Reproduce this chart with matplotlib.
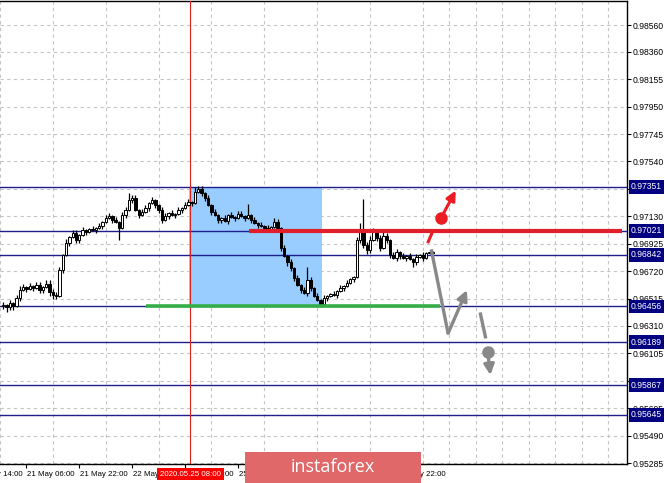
import matplotlib
matplotlib.use("Agg")
import matplotlib.pyplot as plt
from matplotlib.patches import Rectangle
from matplotlib.transforms import blended_transform_factory
import numpy as np

plt.rcParams['font.family'] = ['Liberation Sans', 'DejaVu Sans']

# H1 closes, bar 0 = 20 May 23:00
closes = [0.96467, 0.96452, 0.96482, 0.96459, 0.96519, 0.96579, 0.96601, 0.96586, 0.96609, 0.96594,
          0.96616, 0.96579, 0.96601, 0.96624, 0.96564, 0.96541, 0.96534, 0.96728, 0.96840, 0.96930,
          0.96975, 0.97005, 0.96952, 0.96990, 0.97027, 0.97013, 0.97035, 0.97027, 0.97042, 0.97057,
          0.97087, 0.97117, 0.97132, 0.97102, 0.97087, 0.97042, 0.97139, 0.97177, 0.97252, 0.97267,
          0.97177, 0.97139, 0.97162, 0.97192, 0.97229, 0.97252, 0.97214, 0.97177, 0.97102, 0.97132,
          0.97155, 0.97139, 0.97147, 0.97177, 0.97192, 0.97214, 0.97237, 0.97229, 0.97312, 0.97334,
          0.97304, 0.97267, 0.97214, 0.97162, 0.97139, 0.97102, 0.97117, 0.97095, 0.97139, 0.97125,
          0.97117, 0.97147, 0.97132, 0.97117, 0.97139, 0.97102, 0.97080, 0.97065, 0.97057, 0.97042,
          0.97035, 0.97050, 0.97087, 0.97042, 0.96893, 0.96833, 0.96788, 0.96743, 0.96668, 0.96616,
          0.96579, 0.96556, 0.96653, 0.96594, 0.96534, 0.96504, 0.96474, 0.96519, 0.96534, 0.96549,
          0.96541, 0.96571, 0.96594, 0.96609, 0.96631, 0.96661, 0.96676, 0.96952, 0.97013, 0.96915,
          0.96878, 0.96952, 0.97013, 0.96968, 0.96893, 0.96982, 0.96952, 0.96840, 0.96818, 0.96863,
          0.96833, 0.96818, 0.96833, 0.96811, 0.96788, 0.96825, 0.96840, 0.96818, 0.96855, 0.96863,
          0.96855]
first_open = 0.96459
# wicks in pips above / below the body
wick_hi = [2, 1, 2, 1, 2, 3, 2, 1, 2, 1,
           2, 2, 1, 3, 3, 2, 2, 2, 1, 3,
           1, 2, 2, 1, 2, 1, 1, 2, 1, 2,
           1, 2, 2, 1, 2, 1, 2, 2, 5, 2,
           2, 1, 2, 2, 1, 2, 1, 1, 2, 2,
           1, 2, 1, 2, 1, 2, 2, 1, 4, 2,
           2, 1, 2, 1, 2, 1, 1, 2, 1, 2,
           1, 2, 2, 1, 8, 1, 2, 1, 2, 1,
           2, 1, 3, 2, 1, 2, 1, 2, 1, 2,
           1, 2, 10, 2, 1, 2, 1, 2, 1, 1,
           2, 1, 2, 1, 2, 1, 1, 2, 7, 25,
           2, 3, 3, 2, 2, 3, 2, 1, 2, 2,
           1, 2, 1, 2, 1, 2, 1, 2, 1, 1,
           1]
wick_lo = [2, 4, 2, 3, 1, 2, 1, 2, 1, 2,
           1, 2, 2, 1, 3, 3, 2, 1, 2, 1,
           2, 1, 2, 2, 1, 2, 1, 1, 2, 1,
           2, 1, 1, 2, 1, 9, 1, 2, 1, 2,
           1, 2, 1, 1, 2, 1, 2, 2, 2, 1,
           2, 1, 2, 1, 2, 1, 1, 2, 1, 1,
           2, 2, 1, 2, 1, 2, 2, 1, 2, 1,
           2, 1, 1, 2, 1, 2, 1, 2, 1, 2,
           1, 2, 1, 2, 2, 1, 3, 2, 2, 1,
           2, 1, 2, 2, 1, 1, 2, 1, 2, 1,
           1, 2, 1, 2, 1, 1, 2, 1, 2, 2,
           3, 2, 1, 2, 2, 1, 2, 2, 1, 2,
           2, 1, 2, 1, 4, 2, 1, 2, 1, 1,
           1]

ytick_vals = [0.98560, 0.98360, 0.98155, 0.97950, 0.97745, 0.97540, 0.97335, 0.97130, 0.96925,
              0.96720, 0.96515, 0.96310, 0.96105, 0.95900, 0.95695, 0.95490, 0.95285]
level_vals = [0.97351, 0.97021, 0.96842, 0.96456, 0.96189, 0.95867, 0.95645]

xtick_bars = [-9, 7, 23, 39, 55, 71, 87, 103, 119]
xtick_text = ['20 May 14:00', '21 May 06:00', '21 May 22:00', '22 May 14:00', '25 May 06:00',
              '25 May 22:00', '26 May 14:00', '27 May 06:00', '27 May 22:00']
cursor_bar = 56.6
cursor_text = '2020.05.25 08:00'

box_bars = [56.3, 96.4]
box_prices = [0.96456, 0.97351]
resist_bars = [74.3, 187.2]
resist_price = 0.97021
support_bars = [43.2, 132.3]
support_price = 0.96456

red_dash = [[128.6, 129.9], [0.96940, 0.97015]]
red_dot = [132.5, 0.97119]
red_tip = [136.9, 0.97322]
gray_path = [[129.5, 134.6], [0.96883, 0.96255]]
gray_tip = [140.3, 0.96579]
gray_dash = [[144.4, 145.9], [0.96399, 0.96229]]
gray_dot = [146.6, 0.96117]
gray_tip2 = [147.4, 0.95943]

W, H = 665, 483
fig = plt.figure(figsize=(W / 100, H / 100), dpi=100)
ax = fig.add_axes([0, 19 / H, 627 / W, 463 / H])
ax.set_xlim(-0.54, 188.74)
ax.set_ylim(0.95278, 0.98740)

# candles
x = np.arange(len(closes))
opens = [first_open] + closes[:-1]
tops = np.maximum(opens, closes)
bots = np.minimum(opens, closes)
highs = tops + np.array(wick_hi) * 0.0001
lows = bots - np.array(wick_lo) * 0.0001
heights = np.maximum(tops - bots, 0.00002)
cols = ['black' if c < o else 'white' for o, c in zip(opens, closes)]
ax.vlines(x, lows, highs, color='black', lw=0.9, zorder=4)
ax.bar(x, heights, bottom=bots, width=0.72, color=cols, edgecolor='black', lw=0.7, zorder=5)

# rectangle and levels
ax.add_patch(Rectangle((box_bars[0], box_prices[0]), box_bars[1] - box_bars[0],
                       box_prices[1] - box_prices[0], fc='#99ccff', ec='none', zorder=1))
for lv in level_vals:
    ax.axhline(lv, color='#1e1e8c', lw=1, zorder=3)
ax.axvline(cursor_bar, color='#dd2222', lw=0.8, zorder=3)
ax.plot(resist_bars, [resist_price] * 2, color='#e01f2b', lw=3, zorder=6, solid_capstyle='butt')
ax.plot(support_bars, [support_price] * 2, color='#35ae48', lw=2.6, zorder=6, solid_capstyle='butt')

# forecast arrows
red = '#ec1c24'
gray = '#888888'
ax.plot(red_dash[0], red_dash[1], color=red, lw=2.2, zorder=7)
ax.plot(*red_dot, 'o', ms=8, color=red, zorder=7)
ax.annotate('', xy=red_tip, xytext=red_dot,
            arrowprops=dict(arrowstyle='-|>', color=red, lw=2.2, mutation_scale=14, shrinkA=0, shrinkB=0), zorder=7)
ax.plot(gray_path[0], gray_path[1], color=gray, lw=2.4, zorder=7, solid_capstyle='butt')
ax.annotate('', xy=gray_tip, xytext=(gray_path[0][1], gray_path[1][1]),
            arrowprops=dict(arrowstyle='-|>', color=gray, lw=2.4, mutation_scale=15, shrinkA=0, shrinkB=0), zorder=7)
ax.plot(gray_dash[0], gray_dash[1], color=gray, lw=2.4, zorder=7)
ax.plot(*gray_dot, 'o', ms=8, color=gray, zorder=7)
ax.annotate('', xy=gray_tip2, xytext=gray_dot,
            arrowprops=dict(arrowstyle='-|>', color=gray, lw=2.4, mutation_scale=15, shrinkA=0, shrinkB=0), zorder=7)

# grid
grid_kw = dict(color='#c4c4c4', lw=0.8, linestyle=(0, (3, 3)))
ax.set_xticks(np.arange(-1, 189, 8), minor=True)
ax.set_xticks(xtick_bars[1:])
ax.set_xticklabels([])
ax.grid(which='minor', axis='x', **grid_kw)
ax.grid(which='major', axis='y', **grid_kw)
ax.set_axisbelow(True)
ax.tick_params(axis='x', which='minor', length=0)
ax.tick_params(axis='x', which='major', length=3, width=0.8)

# axes
ax.yaxis.tick_right()
ax.set_yticks(ytick_vals)
ax.set_yticklabels(['%.5f' % v for v in ytick_vals], fontsize=6.2)
ax.tick_params(axis='y', length=3, width=0.8, pad=1)
ax.spines['left'].set_visible(False)
for s in ['top', 'right', 'bottom']:
    ax.spines[s].set_linewidth(1)

tr_x = blended_transform_factory(ax.transData, ax.transAxes)
lab_y = -10 / 463
for b, t in zip(xtick_bars, xtick_text):
    ax.text(b + 0.3, lab_y, t, transform=tr_x, ha='left', va='center', fontsize=5.7, clip_on=False)
ax.text(cursor_bar, lab_y, cursor_text, transform=tr_x, ha='center', va='center', fontsize=5.7,
        color='white', bbox=dict(fc='#ff0000', ec='none', pad=2), zorder=10, clip_on=False)

tr_y = blended_transform_factory(ax.transAxes, ax.transData)
for lv in level_vals:
    ax.text(631 / 627, lv, '%.5f' % lv, transform=tr_y, ha='left', va='center', fontsize=6.2,
            color='white', bbox=dict(fc='#000080', ec='none', pad=1.6), zorder=10, clip_on=False)

# watermark
fig.add_artist(Rectangle((245 / W, 0), 176 / W, 31 / H, transform=fig.transFigure,
                         fc='#e06868', ec='none', zorder=20))
fig.text(333 / W, 15.5 / H, 'instaforex', family=['Open Sans', 'DejaVu Sans'], fontsize=13,
         color='white', ha='center', va='center', zorder=21)

fig.savefig('out.png', dpi=100, facecolor='white')
